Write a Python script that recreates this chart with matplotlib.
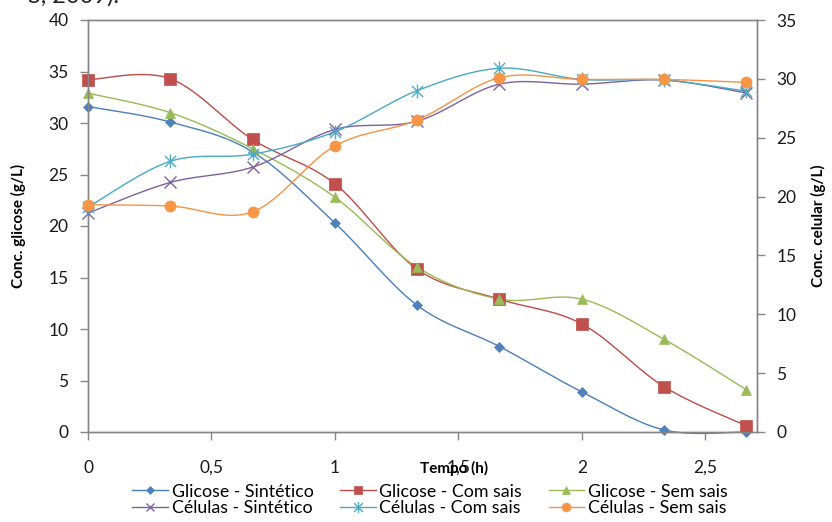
import numpy as np
import matplotlib
matplotlib.use("Agg")
import matplotlib.pyplot as plt
from matplotlib.path import Path
from matplotlib.lines import Line2D

plt.rcParams['font.family'] = ['Lato', 'DejaVu Sans']

# ---- data ----
tempo = [0, 1/3, 2/3, 1, 4/3, 5/3, 2, 7/3, 8/3]
glic_sint = [31.6, 30.1, 27.2, 20.3, 12.3, 8.3, 3.9, 0.2, 0.0]
glic_com = [34.2, 34.3, 28.4, 24.1, 15.8, 12.9, 10.5, 4.4, 0.6]
glic_sem = [32.9, 31.0, 27.5, 22.8, 16.0, 12.9, 12.9, 9.0, 4.1]
cel_sint = [18.6, 21.2, 22.5, 25.7, 26.4, 29.55, 29.55, 29.9, 28.8]
cel_com = [19.1, 23.0, 23.6, 25.5, 29.0, 30.9, 29.95, 29.9, 28.95]
cel_sem = [19.3, 19.2, 18.7, 24.3, 26.5, 30.1, 29.95, 29.95, 29.7]
xticks = [0, 0.5, 1, 1.5, 2, 2.5]
xticklabels = ['0', '0,5', '1', '1,5', '2', '2,5']
labels = ['Glicose - Sintético', 'Glicose - Com sais', 'Glicose - Sem sais',
          'Células - Sintético', 'Células - Com sais', 'Células - Sem sais']

# ---- styles ----
line_cols = ['#4A7EBB', '#BE4B48', '#98B954', '#7D60A0', '#46AAC5', '#F69240']
mark_cols = ['#4F81BD', '#C0504D', '#9BBB59', '#8064A2', '#4BACC6', '#F79646']

star = Path([(0, -1), (0, 1), (-0.8, -0.8), (0.8, 0.8), (-0.8, 0.8), (0.8, -0.8)],
            [Path.MOVETO, Path.LINETO, Path.MOVETO, Path.LINETO, Path.MOVETO, Path.LINETO])
markers = ['D', 's', '^', 'x', star, 'o']
msizes = [5, 8, 7, 8, 10, 8]


def smooth(x, y, n=30):
    # Catmull-Rom style smoothing (Excel "smoothed line") between data points
    x = np.asarray(x, float); y = np.asarray(y, float)
    P = np.column_stack([x, y])
    out = []
    for i in range(len(P) - 1):
        p0 = P[i - 1] if i > 0 else P[i]
        p1 = P[i]; p2 = P[i + 1]
        p3 = P[i + 2] if i + 2 < len(P) else P[i + 1]
        c1 = p1 + (p2 - p0) / 6.0
        c2 = p2 - (p3 - p1) / 6.0
        t = np.linspace(0, 1, n)[:, None]
        seg = ((1 - t) ** 3) * p1 + 3 * ((1 - t) ** 2) * t * c1 + 3 * (1 - t) * t ** 2 * c2 + t ** 3 * p2
        out.append(seg if i == 0 else seg[1:])
    S = np.vstack(out)
    return S[:, 0], S[:, 1]


fig = plt.figure(figsize=(8.32, 5.22), dpi=100)
ax = fig.add_axes([88 / 832, 1 - 432 / 522, (757 - 88) / 832, (432 - 20) / 522])
ax2 = ax.twinx()

grey = '#868686'
handles = []
series = [(ax, glic_sint), (ax, glic_com), (ax, glic_sem),
          (ax2, cel_sint), (ax2, cel_com), (ax2, cel_sem)]
for i, (a, ys) in enumerate(series):
    sx, sy = smooth(tempo, ys)
    a.plot(sx, sy, color=line_cols[i], lw=1.0, zorder=2, clip_on=False)
    mfc = mark_cols[i]
    a.plot(tempo, ys, linestyle='none', marker=markers[i], ms=msizes[i],
           mfc=mfc, mec=mfc, mew=1.0 if i in (3, 4) else 0.5, zorder=3, clip_on=False)
    handles.append(Line2D([0], [0], color=line_cols[i], lw=1.0, marker=markers[i],
                          ms=msizes[i] * 0.8, mfc=mfc, mec=mfc, mew=1.0 if i in (3, 4) else 0.5))

ax.set_xlim(0, 2.71)
ax.set_ylim(0, 40)
ax2.set_ylim(0, 35)
ax.set_xticks(xticks)
ax.set_xticklabels(xticklabels)
ax.set_yticks(np.arange(0, 41, 5))
ax2.set_yticks(np.arange(0, 36, 5))

for a in (ax, ax2):
    for s in a.spines.values():
        s.set_color(grey)
        s.set_linewidth(1.0)
    a.tick_params(colors=grey, labelcolor='#1a1a1a', labelsize=12.5, length=6, width=1.0)
ax.tick_params(axis='x', pad=14)
ax.tick_params(axis='y', pad=8)
ax2.tick_params(axis='y', pad=8)

ax.set_ylabel('Conc. glicose (g/L)', fontsize=11, fontweight='bold', labelpad=16)
ax2.set_ylabel('Conc. celular (g/L)', fontsize=11, fontweight='bold', labelpad=10)
fig.text(454 / 832, 1 - 468 / 522, 'Tempo (h)', ha='center', va='center',
         fontsize=11, fontweight='bold')

# cropped caption fragment at the very top
fig.text(28 / 832, 1 + 4 / 522, 'S, 2009).', ha='left', va='center', fontsize=17, color='#222222')

order = [0, 3, 1, 4, 2, 5]
fig.legend([handles[k] for k in order], [labels[k] for k in order], ncol=3,
           loc='center', bbox_to_anchor=(430 / 832, 1 - 500 / 522), frameon=False,
           fontsize=12.8, handlelength=2.0, handletextpad=0.2, columnspacing=1.5,
           labelspacing=0.05, borderpad=0)

fig.savefig('out.png', dpi=100)
